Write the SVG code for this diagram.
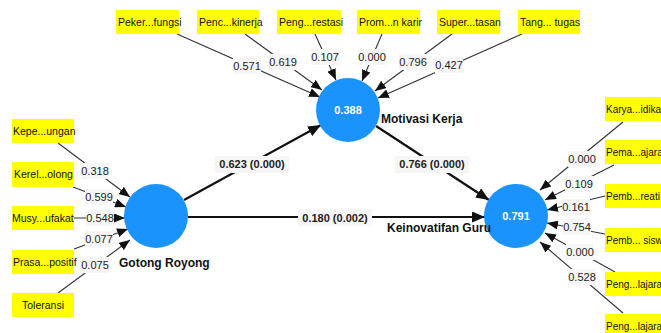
<svg xmlns="http://www.w3.org/2000/svg" width="661" height="333" viewBox="0 0 661 333">
<style>
.box{fill:#ffff00}
.bt{font-family:"Liberation Sans",Arial,sans-serif;font-size:10.5px;fill:#111}
.br{font-size:10px}
.ind{stroke:#333;stroke-width:1.1;fill:none}
.str{stroke:#111;stroke-width:2.2;fill:none}
.lb{fill:#f6f6f6}
.lt{font-family:"Liberation Sans",Arial,sans-serif;font-size:11px;fill:#222;text-anchor:middle}
.sl{font-family:"Liberation Sans",Arial,sans-serif;font-size:11px;font-weight:bold;fill:#222;text-anchor:middle}
.lv{fill:#1a94fc}
.lvt{font-family:"Liberation Sans",Arial,sans-serif;font-size:11px;font-weight:bold;fill:#fff;text-anchor:middle}
.nl{font-family:"Liberation Sans",Arial,sans-serif;font-size:12px;font-weight:bold;fill:#111}
</style>
<defs>
<marker id="a" markerUnits="userSpaceOnUse" markerWidth="11" markerHeight="9" refX="11" refY="4.5" orient="auto"><path d="M0,0 L11,4.5 L0,9 z" fill="#111"/></marker>
<marker id="b" markerUnits="userSpaceOnUse" markerWidth="13" markerHeight="11" refX="13" refY="5.5" orient="auto"><path d="M0,0 L13,5.5 L0,11 z" fill="#111"/></marker>
</defs>
<rect width="661" height="333" fill="#fff"/>
<g id="connectors">
<line class="ind" x1="177" y1="34" x2="320" y2="97" marker-end="url(#a)"/>
<line class="ind" x1="245" y1="34" x2="322" y2="90" marker-end="url(#a)"/>
<line class="ind" x1="315" y1="34" x2="336" y2="80" marker-end="url(#a)"/>
<line class="ind" x1="382" y1="34" x2="362" y2="81" marker-end="url(#a)"/>
<line class="ind" x1="452" y1="34" x2="375" y2="91" marker-end="url(#a)"/>
<line class="ind" x1="522" y1="34" x2="378" y2="98" marker-end="url(#a)"/>
<line class="ind" x1="58" y1="143" x2="130" y2="197" marker-end="url(#a)"/>
<line class="ind" x1="73" y1="187" x2="126" y2="207" marker-end="url(#a)"/>
<line class="ind" x1="74" y1="218" x2="125" y2="218" marker-end="url(#a)"/>
<line class="ind" x1="74" y1="249" x2="128" y2="229" marker-end="url(#a)"/>
<line class="ind" x1="58" y1="293" x2="130" y2="240" marker-end="url(#a)"/>
<line class="ind" x1="623" y1="122" x2="540" y2="190" marker-end="url(#a)"/>
<line class="ind" x1="614" y1="165" x2="545" y2="200" marker-end="url(#a)"/>
<line class="ind" x1="605" y1="196" x2="547" y2="210" marker-end="url(#a)"/>
<line class="ind" x1="605" y1="234" x2="547" y2="223" marker-end="url(#a)"/>
<line class="ind" x1="615" y1="272" x2="545" y2="233" marker-end="url(#a)"/>
<line class="ind" x1="623" y1="313" x2="540" y2="242" marker-end="url(#a)"/>
<line class="str" x1="184" y1="200" x2="321" y2="125" marker-end="url(#b)"/>
<line class="str" x1="188" y1="217" x2="485" y2="217" marker-end="url(#b)"/>
<line class="str" x1="376" y1="126" x2="489" y2="200" marker-end="url(#b)"/>
<rect class="lb" x="233" y="58" width="28" height="16"/><text class="lt" x="247" y="70">0.571</text>
<rect class="lb" x="269" y="54" width="28" height="16"/><text class="lt" x="283" y="66">0.619</text>
<rect class="lb" x="311" y="49" width="28" height="16"/><text class="lt" x="325" y="61">0.107</text>
<rect class="lb" x="358" y="49" width="28" height="16"/><text class="lt" x="372" y="61">0.000</text>
<rect class="lb" x="399" y="54" width="28" height="16"/><text class="lt" x="413" y="66">0.796</text>
<rect class="lb" x="435" y="57" width="28" height="16"/><text class="lt" x="449" y="69">0.427</text>
<rect class="lb" x="81" y="163" width="28" height="16"/><text class="lt" x="95" y="175">0.318</text>
<rect class="lb" x="85" y="189" width="28" height="16"/><text class="lt" x="99" y="201">0.599</text>
<rect class="lb" x="86" y="210" width="28" height="16"/><text class="lt" x="100" y="222">0.548</text>
<rect class="lb" x="85" y="231" width="28" height="16"/><text class="lt" x="99" y="243">0.077</text>
<rect class="lb" x="81" y="257" width="28" height="16"/><text class="lt" x="95" y="269">0.075</text>
<rect class="lb" x="568" y="151" width="28" height="16"/><text class="lt" x="582" y="163">0.000</text>
<rect class="lb" x="565" y="176" width="28" height="16"/><text class="lt" x="579" y="188">0.109</text>
<rect class="lb" x="562" y="199" width="28" height="16"/><text class="lt" x="576" y="211">0.161</text>
<rect class="lb" x="563" y="219" width="28" height="16"/><text class="lt" x="577" y="231">0.754</text>
<rect class="lb" x="566" y="244" width="28" height="16"/><text class="lt" x="580" y="256">0.000</text>
<rect class="lb" x="568" y="269" width="28" height="16"/><text class="lt" x="582" y="281">0.528</text>
<rect class="lb" x="215" y="156" width="74" height="17"/><text class="sl" x="252" y="168">0.623 (0.000)</text>
<rect class="lb" x="395" y="156" width="74" height="17"/><text class="sl" x="432" y="168">0.766 (0.000)</text>
<rect class="lb" x="298" y="209" width="74" height="17"/><text class="sl" x="335" y="222">0.180 (0.002)</text>
</g>
<g id="n-peker"><rect class="box" x="116" y="10" width="63" height="24"/><text class="bt" x="118" y="26">Peker...fungsi</text></g>
<g id="n-penc"><rect class="box" x="197" y="10" width="62" height="24"/><text class="bt" x="199" y="26">Penc...kinerja</text></g>
<g id="n-peng-restasi"><rect class="box" x="277" y="10" width="64" height="24"/><text class="bt" x="279" y="26">Peng...restasi</text></g>
<g id="n-prom"><rect class="box" x="357" y="10" width="63" height="24"/><text class="bt" x="359" y="26">Prom...n karir</text></g>
<g id="n-super"><rect class="box" x="437" y="10" width="63" height="24"/><text class="bt" x="439" y="26">Super...tasan</text></g>
<g id="n-tang"><rect class="box" x="518" y="10" width="62" height="24"/><text class="bt" x="520" y="26">Tang... tugas</text></g>
<g id="n-kepe"><rect class="box" x="12" y="119" width="62" height="24"/><text class="bt" x="13" y="135">Kepe...ungan</text></g>
<g id="n-kerel"><rect class="box" x="12" y="162" width="62" height="25"/><text class="bt" x="14" y="178">Kerel...olong</text></g>
<g id="n-musy"><rect class="box" x="12" y="206" width="62" height="24"/><text class="bt" x="12" y="222">Musy...ufakat</text></g>
<g id="n-prasa"><rect class="box" x="12" y="250" width="62" height="24"/><text class="bt" x="13" y="266">Prasa...positif</text></g>
<g id="n-toleransi"><rect class="box" x="12" y="293" width="62" height="24"/><text class="bt" x="22" y="309">Toleransi</text></g>
<g id="n-karya"><rect class="box" x="605" y="97" width="60" height="24"/><text class="bt br" x="606" y="113">Karya...idika</text></g>
<g id="n-pema"><rect class="box" x="605" y="140" width="60" height="24"/><text class="bt br" x="606" y="156">Pema...ajara</text></g>
<g id="n-pemb-reati"><rect class="box" x="605" y="184" width="60" height="24"/><text class="bt br" x="606" y="200">Pemb...reati</text></g>
<g id="n-pemb-sisw"><rect class="box" x="605" y="228" width="60" height="24"/><text class="bt br" x="606" y="244">Pemb... sisw</text></g>
<g id="n-peng1"><rect class="box" x="605" y="272" width="60" height="24"/><text class="bt br" x="606" y="288">Peng...lajara</text></g>
<g id="n-peng2"><rect class="box" x="605" y="314" width="60" height="24"/><text class="bt br" x="606" y="330">Peng...lajara</text></g>
<g id="n-motivasi"><circle class="lv" cx="348" cy="110" r="32"/><text class="lvt" x="348" y="114">0.388</text><text class="nl" x="381" y="123">Motivasi Kerja</text></g>
<g id="n-gotong"><circle class="lv" cx="156" cy="216" r="32"/><text class="nl" x="119" y="267">Gotong Royong</text></g>
<g id="n-keinovatifan"><circle class="lv" cx="516" cy="216" r="32"/><text class="lvt" x="516" y="220">0.791</text><text class="nl" x="387" y="232">Keinovatifan Guru</text></g>
</svg>
